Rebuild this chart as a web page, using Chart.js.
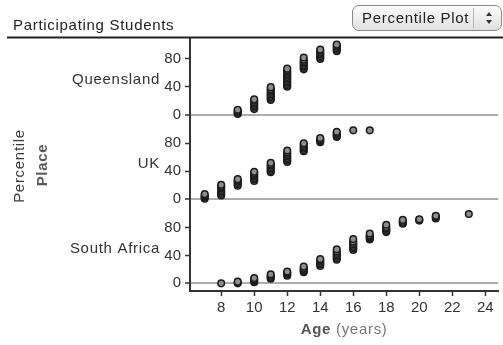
<!DOCTYPE html>
<html><head><meta charset="utf-8">
<script src="https://cdn.jsdelivr.net/npm/chart.js@4"></script>
<style>
html,body{margin:0;padding:0;background:#fff;}
#wrap{position:relative;width:503px;height:345px;overflow:hidden;}
canvas{position:absolute;left:0;top:0;}
#btn{position:absolute;left:352px;top:5px;width:150px;height:26px;border:1px solid #8a8a8a;border-radius:7px;background:linear-gradient(#fcfcfc,#e0e0e0);font:15px "Liberation Sans",Arial,sans-serif;color:#222;box-sizing:border-box;}
#btn .t{position:absolute;left:9px;top:3px;letter-spacing:0.7px;white-space:nowrap;}
#btn .sep{position:absolute;left:120px;top:2px;bottom:2px;border-left:1px solid #b5b5b5;}
#btn .up{position:absolute;left:133px;top:6px;width:0;height:0;border-left:3px solid transparent;border-right:3px solid transparent;border-bottom:4px solid #333;}
#btn .dn{position:absolute;left:133px;top:14px;width:0;height:0;border-left:3px solid transparent;border-right:3px solid transparent;border-top:4px solid #333;}
</style>
</head><body>
<div id="wrap">
<canvas id="c" width="503" height="345"></canvas>
<div id="btn"><span class="t">Percentile Plot</span><span class="sep"></span><span class="up"></span><span class="dn"></span></div>
</div>
<script>
// ---- data ----
const xTickValues = [8, 10, 12, 14, 16, 18, 20, 22, 24];
const yTickValues = [0, 20, 40, 60, 80, 100];
const yLabelValues = [0, 40, 80];
const countries = ['Queensland', 'UK', 'South Africa'];

const qAges = [9, 10, 11, 12, 13, 14, 15];
const qPct = [
  [1, 2.5, 4, 5.5, 7],
  [8, 10, 12, 14, 16, 18, 20, 22],
  [21, 23, 25, 27, 29, 31, 33, 35, 37, 39.5],
  [40, 42, 44, 46, 48, 50, 52, 54, 56, 58, 60, 62, 64, 66],
  [65, 67, 69, 71, 73, 75, 77, 79, 82],
  [80, 82, 84, 86, 88, 90, 92, 93.5],
  [91, 93, 95, 97, 99, 100.5]
];

const ukAges = [7, 8, 9, 10, 11, 12, 13, 14, 15, 16, 17];
const ukPct = [
  [0.5, 2, 3.5, 5, 7],
  [5, 7, 9, 11, 13, 15, 17, 18.5, 20.5],
  [19, 21, 23, 25, 26.5, 28.5],
  [26, 28, 30, 32, 34, 36, 37.5, 39],
  [38.5, 40, 42, 44, 46, 48, 50, 52],
  [53, 55, 57, 59, 61, 63, 65, 67, 69.5],
  [68.5, 70, 72, 74, 76, 78, 80],
  [81.5, 83, 84.5, 86, 87.5],
  [89, 90.5, 92, 93.5, 95, 96.5],
  [98.5],
  [98.5]
];

const saAges = [8, 9, 10, 11, 12, 13, 14, 15, 16, 17, 18, 19, 20, 21, 23];
const saPct = [
  [0],
  [0, 1.2, 2.4],
  [1.7, 3, 4.5, 6, 7.5],
  [6.5, 8, 9.5, 11, 13],
  [11, 12.5, 14, 15.5, 17],
  [16, 17.5, 19, 20.5, 22, 24],
  [25, 27, 29, 31, 33, 35],
  [34, 36, 38, 40, 42, 44, 46, 49],
  [48, 50, 52, 54, 56, 58, 60, 63.5],
  [63, 64.5, 66, 67.5, 69, 71.5],
  [73.5, 75, 77, 79, 81, 84],
  [85.5, 87, 88.5, 91],
  [90, 91, 92],
  [93, 94.5, 96, 97],
  [99.5]
];

// ---- build ----
function toPoints(ages, pcts) {
  const pts = [];
  ages.forEach((a, i) => pcts[i].forEach(p => pts.push({x: a, y: p})));
  return pts;
}
const FONT = '"Liberation Sans", Arial, sans-serif';
Chart.defaults.font.family = FONT;
Chart.defaults.font.size = 15;
Chart.defaults.color = '#333';

function yScale() {
  return {
    type: 'linear', position: 'left', stack: 'panels', stackWeight: 1,
    min: -11, max: 110,
    border: {color: '#333', width: 2},
    grid: {
      drawOnChartArea: true,
      color: c => (c.tick && c.tick.value === 0) ? '#adadad' : 'rgba(0,0,0,0)',
      lineWidth: c => (c.tick && c.tick.value === 0) ? 2 : 1,
      tickColor: '#333', tickLength: 5, tickWidth: 1.5
    },
    ticks: {padding: 4, color: '#333', font: {size: 15}, callback: v => yLabelValues.includes(v) ? String(v) : ''},
    afterBuildTicks: s => { s.ticks = yTickValues.map(v => ({value: v})); },
    afterFit: s => { s.width = 190; }
  };
}

const ptStyle = {pointRadius: 3.3, pointBorderWidth: 1.5, backgroundColor: '#8d8d8d', borderColor: '#1c1c1c', pointHoverRadius: 3.3};

const textPlugin = {
  id: 'texts',
  afterDraw(chart) {
    const ctx = chart.ctx;
    const ca = chart.chartArea;
    ctx.save();
    ctx.letterSpacing = '0.7px';
    // title
    ctx.fillStyle = '#222';
    ctx.font = '15px ' + FONT;
    ctx.textAlign = 'left'; ctx.textBaseline = 'alphabetic';
    ctx.fillText('Participating Students', 13, 30);
    // rule
    ctx.strokeStyle = '#222'; ctx.lineWidth = 2;
    ctx.beginPath(); ctx.moveTo(7, 37.5); ctx.lineTo(503, 37.5); ctx.stroke();
    // country names
    ctx.fillStyle = '#333';
    ctx.textAlign = 'right'; ctx.textBaseline = 'middle';
    ['yQ', 'yUK', 'ySA'].forEach((id, i) => {
      const s = chart.scales[id];
      ctx.fillText(countries[i], 160, s.getPixelForValue(50));
    });
    // vertical axis title
    ctx.save();
    ctx.translate(20, 166); ctx.rotate(-Math.PI / 2);
    ctx.textAlign = 'center'; ctx.fillStyle = '#3a3a3a';
    ctx.font = '15px ' + FONT;
    ctx.fillText('Percentile', 0, 0);
    ctx.restore();
    ctx.save();
    ctx.translate(43, 165); ctx.rotate(-Math.PI / 2);
    ctx.textAlign = 'center'; ctx.fillStyle = '#5a5a5a';
    ctx.font = 'bold 15px ' + FONT;
    ctx.fillText('Place', 0, 0);
    ctx.restore();
    // x axis title
    ctx.textBaseline = 'middle'; ctx.textAlign = 'left';
    ctx.font = 'bold 15px ' + FONT;
    const w1 = ctx.measureText('Age ').width;
    ctx.font = '15px ' + FONT;
    const w2 = ctx.measureText('(years)').width;
    const x0 = (ca.left + ca.right) / 2 - (w1 + w2) / 2;
    ctx.font = 'bold 15px ' + FONT; ctx.fillStyle = '#555';
    ctx.fillText('Age ', x0, 330);
    ctx.font = '15px ' + FONT; ctx.fillStyle = '#777';
    ctx.fillText('(years)', x0 + w1, 330);
    ctx.restore();
  }
};

new Chart(document.getElementById('c'), {
  type: 'scatter',
  data: {
    datasets: [
      Object.assign({label: countries[0], data: toPoints(qAges, qPct), yAxisID: 'yQ'}, ptStyle),
      Object.assign({label: countries[1], data: toPoints(ukAges, ukPct), yAxisID: 'yUK'}, ptStyle),
      Object.assign({label: countries[2], data: toPoints(saAges, saPct), yAxisID: 'ySA'}, ptStyle)
    ]
  },
  options: {
    responsive: false, animation: false, devicePixelRatio: 1,
    layout: {padding: {top: 38, left: 0, right: 0, bottom: 0}},
    plugins: {legend: {display: false}, tooltip: {enabled: false}},
    scales: {
      x: {
        type: 'linear', position: 'bottom', min: 6.11, max: 24.78,
        border: {color: '#333', width: 2},
        grid: {drawOnChartArea: false, tickColor: '#333', tickLength: 5, tickWidth: 1.5},
        ticks: {padding: 3, color: '#333', font: {size: 15}},
        afterBuildTicks: s => { s.ticks = xTickValues.map(v => ({value: v})); },
        afterFit: s => { s.height = 54; }
      },
      ySA: yScale(),
      yUK: yScale(),
      yQ: yScale()
    }
  },
  plugins: [textPlugin]
});
</script>
</body></html>
